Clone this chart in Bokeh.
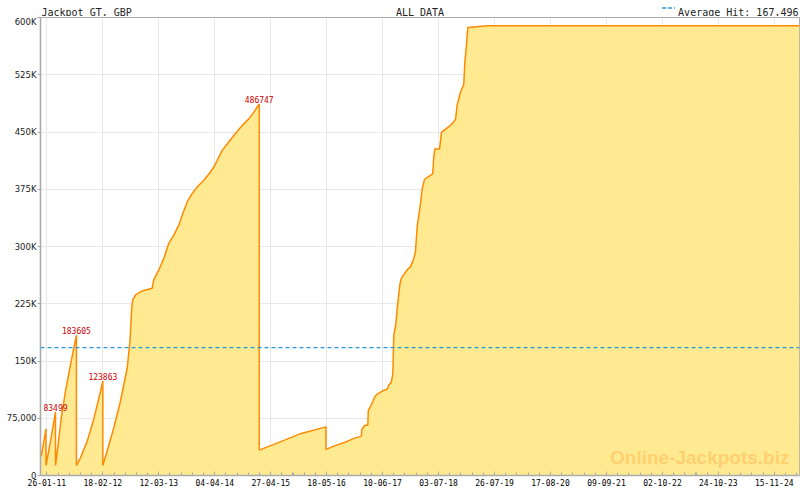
import pandas as pd
from bokeh.plotting import figure
from bokeh.layouts import column
from bokeh.models import (Range1d, FixedTicker, DatetimeTickFormatter, Span, Label,
                          ColumnDataSource)
from bokeh.core.properties import value
from bokeh.embed import file_html
from bokeh.resources import INLINE

chart_title = "Jackpot GT, GBP"
period_label = "ALL DATA"
watermark = "Online-Jackpots.biz"
avg_hit = 167496

dates = [
    "2010-12-18", "2011-01-20", "2011-01-20", "2011-02-24", "2011-03-27", "2011-03-27",
    "2011-04-13", "2011-05-06", "2011-06-04", "2011-07-09", "2011-08-19", "2011-08-19",
    "2011-09-16", "2011-11-02", "2011-12-17", "2012-02-02", "2012-02-18", "2012-02-18",
    "2012-03-19", "2012-05-04", "2012-06-19", "2012-08-05", "2012-08-24", "2012-09-06",
    "2012-09-13", "2012-10-02", "2012-11-17", "2013-01-25", "2013-02-05", "2013-03-12",
    "2013-04-16", "2013-05-20", "2013-06-24", "2013-07-29", "2013-08-21", "2013-09-25",
    "2013-10-29", "2013-12-03", "2014-01-18", "2014-03-05", "2014-03-28", "2014-04-21",
    "2014-05-25", "2014-07-10", "2014-08-14", "2014-10-11", "2014-11-26", "2014-12-31",
    "2015-02-06", "2015-02-06", "2015-07-15", "2015-11-19", "2016-05-14", "2016-05-14",
    "2016-07-07", "2016-09-14", "2016-11-23", "2017-01-15", "2017-01-17", "2017-02-07",
    "2017-02-28", "2017-03-03", "2017-03-25", "2017-04-06", "2017-04-15", "2017-04-29",
    "2017-06-14", "2017-07-12", "2017-07-23", "2017-08-09", "2017-08-20", "2017-08-27",
    "2017-09-08", "2017-09-20", "2017-09-27", "2017-10-08", "2017-10-18", "2017-11-04",
    "2017-11-28", "2017-12-21", "2018-01-13", "2018-01-24", "2018-02-05", "2018-02-28",
    "2018-03-12", "2018-03-28", "2018-05-08", "2018-05-24", "2018-05-31", "2018-06-07",
    "2018-07-10", "2018-07-24", "2018-09-17", "2018-10-15", "2018-10-29", "2018-11-09",
    "2018-12-02", "2018-12-25", "2019-01-01", "2019-01-13", "2019-01-22", "2019-03-02",
    "2019-06-08", "2025-05-09",
]
values = [
    25000, 61000, 13000, 49000, 83499, 13000,
    38500, 75500, 110300, 145200, 183605, 13000,
    23200, 45000, 73800, 110300, 123863, 13000,
    32000, 62400, 97300, 140800, 175600, 221300,
    230100, 236600, 241800, 245200, 256200, 269300,
    284400, 304000, 315000, 328000, 341000, 358400,
    369300, 378000, 386800, 397600, 404100, 412900,
    425900, 436800, 445500, 458600, 467200, 476000,
    486747, 33300, 45000, 54800, 63700, 34200,
    38500, 42800, 48600, 51600, 60300, 65900,
    65900, 85100, 93000, 98200, 102500, 106000,
    111300, 113000, 118200, 122100, 132900, 184400,
    195200, 219100, 232200, 250100, 258300, 263100,
    269600, 273600, 284400, 293100, 325800, 356200,
    375800, 388100, 393300, 395400, 417200, 427600,
    427600, 449800, 457600, 462900, 466800, 485100,
    502000, 512500, 539900, 564800, 586900, 587600,
    589200, 589200,
]
labelled_peaks = [83499, 183605, 123863, 486747]

x_tick_labels = ["26-01-11", "18-02-12", "12-03-13", "04-04-14", "27-04-15", "18-05-16",
                 "10-06-17", "03-07-18", "26-07-19", "17-08-20", "09-09-21", "02-10-22",
                 "24-10-23", "15-11-24"]
y_ticks = [0, 75000, 150000, 225000, 300000, 375000, 450000, 525000, 600000]
y_tick_labels = ["0", "75,000", "150K", "225K", "300K", "375K", "450K", "525K", "600K"]
x_start, x_end = "2010-12-13", "2025-05-09"

FILL = "#FFEA92"
LINE = "#FF8A00"
AVG = "#2796DC"
GRID = "#E8E8E8"
AXIS = "#AAAAAA"
MONO = "DejaVu Sans Mono"
TXT = "#222222"

W, H = 800, 490
BORDER_L, BORDER_R = 40, 1


def ms(d):
    return pd.Timestamp(d).value / 1e6


xs = pd.to_datetime(dates)
src = ColumnDataSource(dict(x=xs, y=values))
x0, x1 = ms(x_start), ms(x_end)
xr = Range1d(x0, x1)
ms_per_px = (x1 - x0) / (W - BORDER_L - BORDER_R)

# ---- header strip ----
HEAD_H = 16
head = figure(width=W, height=HEAD_H, x_range=xr, y_range=Range1d(0, HEAD_H),
              x_axis_location=None, y_axis_location=None,
              output_backend="svg", toolbar_location=None,
              min_border_left=BORDER_L, min_border_right=BORDER_R,
              min_border_top=0, min_border_bottom=0,
              background_fill_color="white", border_fill_color="white")
head.outline_line_color = None
head.grid.visible = False
avg_txt = f"Average Hit: {avg_hit:,}"
htxt = dict(y=4.5, text_baseline="alphabetic", text_font=value(MONO),
            text_font_size="10px", text_color=TXT)
head.text(x=[x0], text=[chart_title], x_offset=1, text_align="left", **htxt)
head.text(x=[(x0 + x1) / 2], text=[period_label], text_align="center", **htxt)
head.text(x=[x1], text=[avg_txt], x_offset=-1, text_align="right", **htxt)
# legend sample for the average line, just left of its text
txt_w = 6.02 * len(avg_txt) + 1
head.line(x=[x1 - (txt_w + 16) * ms_per_px, x1 - (txt_w + 3) * ms_per_px], y=[8.5, 8.5],
          line_color=AVG, line_dash="4 2", line_width=1.3)

# ---- main chart ----
p = figure(width=W, height=H - HEAD_H, x_axis_type="datetime",
           x_range=xr, y_range=Range1d(0, 600000),
           output_backend="svg", toolbar_location=None,
           min_border_left=BORDER_L, min_border_right=BORDER_R,
           min_border_top=1, min_border_bottom=15,
           background_fill_color="white", border_fill_color="white")
p.outline_line_color = AXIS
p.outline_line_width = 1

p.varea(x="x", y1=0, y2="y", source=src, fill_color=FILL)
p.line(x="x", y="y", source=src, line_color=LINE, line_width=1.5)

pk_x, pk_y, pk_t = [], [], []
for v in labelled_peaks:
    i = values.index(v)
    pk_x.append(xs[i]); pk_y.append(v); pk_t.append(str(v))
p.text(x=pk_x, y=pk_y, text=pk_t, text_font=value(MONO), text_font_size="8px",
       text_color="#CC0000", text_align="center", text_baseline="bottom", y_offset=-1)

p.add_layout(Span(location=avg_hit, dimension="width", line_color=AVG,
                  line_dash="4 3", line_width=1.2))

major = [ms(pd.to_datetime(t, format="%d-%m-%y")) for t in x_tick_labels]
step = (major[1] - major[0]) / 5
minor = []
for a in range(len(major)):
    for k in range(-4, 5):
        m = major[a] + k * step
        if x0 <= m <= x1 and all(abs(m - q) > 1 for q in major) and all(abs(m - q) > 1 for q in minor):
            minor.append(m)
xax = p.xaxis[0]
xax.ticker = FixedTicker(ticks=major, minor_ticks=minor)
fmt = "%d-%m-%y"
xax.formatter = DatetimeTickFormatter(days=fmt, months=fmt, years=fmt, hours=fmt,
                                      hourmin=fmt, minutes=fmt, minsec=fmt, seconds=fmt,
                                      milliseconds=fmt, microseconds=fmt,
                                      strip_leading_zeros=False)
xax.major_tick_in = 4
xax.major_tick_out = 0
xax.minor_tick_in = 3
xax.minor_tick_out = 0
xax.major_label_standoff = 3
xax.major_label_text_font = MONO
xax.major_label_text_font_size = "8px"
xax.major_label_text_color = "black"

yax = p.yaxis[0]
yax.ticker = FixedTicker(ticks=y_ticks, minor_ticks=[])
yax.major_label_overrides = {t: l for t, l in zip(y_ticks, y_tick_labels)}
yax.major_tick_in = 0
yax.major_tick_out = 3
yax.major_label_standoff = 1
yax.major_label_text_font = "DejaVu Sans"
yax.major_label_text_font_size = "8.5px"
yax.major_label_text_color = TXT

for ax in (xax, yax):
    ax.axis_line_color = AXIS
    ax.axis_line_width = 1.6
    ax.major_tick_line_color = AXIS
    ax.minor_tick_line_color = AXIS

p.xgrid.grid_line_color = GRID
p.ygrid.grid_line_color = GRID

p.add_layout(Label(x=x1, y=0, x_offset=-10, y_offset=8, text=watermark,
                   text_align="right", text_baseline="bottom",
                   text_font="Liberation Sans", text_font_style="bold",
                   text_font_size="19px", text_color="#FFD070"))

layout = column(head, p, spacing=0)
open("out.html", "w").write(file_html(layout, INLINE))
